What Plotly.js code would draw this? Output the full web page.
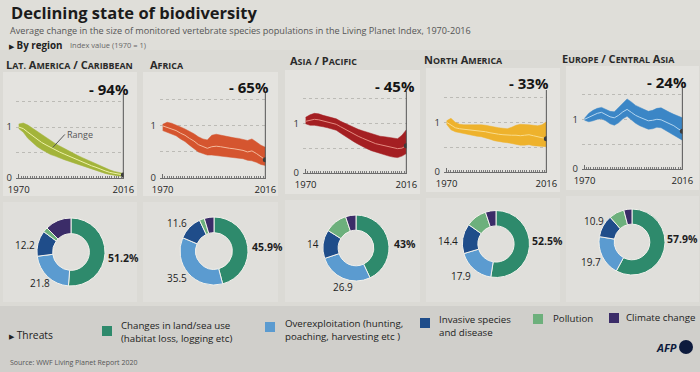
<!DOCTYPE html>
<html><head><meta charset="utf-8">
<script src="https://cdn.plot.ly/plotly-3.0.1.min.js"></script>
<style>html,body{margin:0;padding:0;background:#dbdad5;}</style>
</head><body><div id="chart" style="width:700px;height:372px;"></div>
<script>
// ---------- DATA ----------
const years = [1970,1972,1974,1976,1978,1980,1982,1984,1986,1988,1990,1992,1994,1996,1998,2000,2002,2004,2006,2008,2010,2012,2014,2016];
const regions = ['Lat. America / Caribbean','Africa','Asia / Pacific','North America','Europe / Central Asia'];
const changeLabels = ['- 94%','- 65%','- 45%','- 33%','- 24%'];

const latamMean  = [1.00,0.97,0.90,0.83,0.76,0.70,0.65,0.60,0.55,0.51,0.47,0.43,0.39,0.35,0.31,0.28,0.24,0.21,0.17,0.14,0.11,0.09,0.07,0.06];
const latamUpper = [1.06,1.08,1.04,0.98,0.91,0.85,0.80,0.74,0.68,0.63,0.58,0.53,0.48,0.44,0.40,0.36,0.32,0.27,0.23,0.19,0.16,0.13,0.11,0.09];
const latamLower = [0.97,0.90,0.78,0.69,0.62,0.56,0.51,0.46,0.43,0.39,0.36,0.33,0.30,0.26,0.23,0.20,0.17,0.14,0.11,0.09,0.07,0.05,0.04,0.03];

const africaMean  = [1.00,0.97,0.95,0.91,0.86,0.82,0.76,0.71,0.64,0.60,0.57,0.60,0.61,0.60,0.58,0.57,0.56,0.55,0.53,0.50,0.52,0.47,0.41,0.35];
const africaUpper = [1.03,1.07,1.05,1.02,0.98,0.94,0.90,0.85,0.79,0.75,0.73,0.82,0.84,0.82,0.80,0.78,0.77,0.76,0.74,0.72,0.75,0.69,0.63,0.59];
const africaLower = [0.91,0.88,0.85,0.81,0.75,0.70,0.63,0.57,0.50,0.47,0.44,0.44,0.43,0.42,0.42,0.41,0.40,0.39,0.37,0.34,0.33,0.30,0.26,0.24];

const asiaMean  = [1.04,1.06,1.08,1.07,1.05,1.03,1.01,0.98,0.93,0.88,0.83,0.78,0.74,0.70,0.66,0.62,0.59,0.57,0.55,0.52,0.50,0.49,0.50,0.55];
const asiaUpper = [1.12,1.17,1.20,1.19,1.16,1.14,1.12,1.09,1.04,1.00,0.96,0.91,0.88,0.85,0.82,0.79,0.76,0.74,0.73,0.72,0.70,0.69,0.76,0.87];
const asiaLower = [0.99,0.96,0.96,0.95,0.93,0.91,0.89,0.86,0.80,0.74,0.68,0.63,0.58,0.53,0.49,0.45,0.42,0.39,0.37,0.34,0.32,0.31,0.34,0.39];

const namMean  = [1.00,0.95,0.89,0.87,0.86,0.85,0.84,0.83,0.83,0.81,0.79,0.77,0.76,0.75,0.74,0.74,0.74,0.73,0.74,0.75,0.73,0.71,0.70,0.67];
const namUpper = [1.03,1.08,1.00,0.96,0.95,0.95,0.96,0.96,0.95,0.94,0.92,0.90,0.89,0.88,0.87,0.90,0.94,0.96,0.96,0.95,0.94,0.93,0.95,1.01];
const namLower = [0.96,0.85,0.81,0.79,0.77,0.75,0.74,0.72,0.71,0.69,0.66,0.63,0.61,0.60,0.59,0.57,0.55,0.54,0.54,0.55,0.53,0.52,0.51,0.51];

const eurMean  = [1.00,1.04,1.08,1.12,1.14,1.10,1.05,1.03,1.08,1.15,1.20,1.14,1.08,1.04,1.00,0.97,0.98,1.00,0.99,0.95,0.91,0.87,0.81,0.76];
const eurUpper = [1.02,1.12,1.18,1.22,1.24,1.20,1.16,1.15,1.24,1.34,1.41,1.35,1.28,1.24,1.20,1.16,1.18,1.22,1.23,1.18,1.14,1.10,1.06,1.03];
const eurLower = [0.98,0.95,0.97,1.00,1.01,0.97,0.91,0.88,0.93,1.01,1.06,0.99,0.92,0.87,0.83,0.80,0.81,0.84,0.83,0.78,0.73,0.68,0.63,0.58];

const xTickVals = [1970, 2016];
const xTickText = ['1970', '2016'];
const yTickVals = [0, 0.5, 1, 1.5];
const yTickText = ['0', '', '1', ''];

const threats = ['Changes in land/sea use<br>(habitat loss, logging etc)','Overexploitation (hunting,<br>poaching, harvesting etc )','Invasive species<br>and disease','Pollution','Climate change'];
const landUse   = [51.2, 45.9, 43, 52.5, 57.9];
const overexp   = [21.8, 35.5, 26.9, 17.9, 19.7];
const invasive  = [12.2, 11.6, 14, 14.4, 10.9];
const pollution = [2.3, 2.4, 11.0, 10.1, 7.5];
const climate   = [12.5, 4.6, 5.1, 5.1, 4.0];

// ---------- STYLE / GEOMETRY ----------
const means  = [latamMean, africaMean, asiaMean, namMean, eurMean];
const uppers = [latamUpper, africaUpper, asiaUpper, namUpper, eurUpper];
const lowers = [latamLower, africaLower, asiaLower, namLower, eurLower];
const bandColors = ['#a3b43a','#d5552f','#a41f22','#eeb22c','#3b86c6'];
const lineColors = ['#eef2a8','#f3b99c','#e48a80','#f9dc8c','#b4d6f0'];
const threatColors = ['#2e8a6c','#5b9bd0','#1f4d8a','#6db07c','#3b2c68'];

const geo = [
  {x0:16, x1:124, yt:94, yb:178, px:131, py:89, tx:4,   ty:64, cx:71,  cy:252, r:34, lb:[[124,258],[40,283],[25,245]], bg:[3,137,72,196]},
  {x0:160,x1:266, yt:92, yb:178, px:271, py:87, tx:148, ty:64, cx:214, cy:251, r:34, lb:[[267,247],[177,278],[177,223]], bg:[143,278,72,196]},
  {x0:303,x1:407, yt:91, yb:173, px:417, py:86, tx:288, ty:61, cx:356, cy:248, r:33, lb:[[405,244],[343,287],[313,244]], bg:[285,420,70,194]},
  {x0:444,x1:547, yt:90, yb:172, px:551, py:83, tx:422, ty:60, cx:496, cy:244, r:33.5, lb:[[547,241],[461,276],[448,241]], bg:[426,560,68,192]},
  {x0:582,x1:683, yt:87, yb:169, px:689, py:82, tx:560, ty:59, cx:632, cy:242, r:33, lb:[[682,239],[591,262],[594,221]], bg:[566,699,66,190]}
];
const W = 700, H = 372;
const fx = v => v / W, fy = v => 1 - v / H;
const FONT = 'Open Sans, Noto Sans, sans-serif';

function smallCaps(s, small) {
  return s.split(' ').map(w => {
    if (!/[A-Za-z]/.test(w)) return w;
    return w[0].toUpperCase() + (w.length > 1 ? `<span style="font-size:${small}px">${w.slice(1).toUpperCase()}</span>` : '');
  }).join(' ');
}

const traces = [];
const layout = {
  width: W, height: H, margin: {l:0, r:0, t:0, b:0},
  paper_bgcolor: '#dbdad5', plot_bgcolor: 'rgba(0,0,0,0)',
  showlegend: false, font: {family: FONT, color: '#222'},
  shapes: [], annotations: []
};

layout.shapes.push({type:'rect', xref:'paper', yref:'paper', x0:0, x1:1, y0:fy(0), y1:fy(50), fillcolor:'#dfded9', line:{width:0}, layer:'below'});
layout.shapes.push({type:'rect', xref:'paper', yref:'paper', x0:0, x1:1, y0:fy(306), y1:fy(372), fillcolor:'#d0cfcb', line:{width:0}, layer:'below'});

regions.forEach((name, i) => {
  const g = geo[i];
  const s = i === 0 ? '' : String(i + 1);
  const xa = 'x' + s, ya = 'y' + s;
  layout.shapes.push({type:'rect', xref:'paper', yref:'paper', x0:fx(g.bg[0]), x1:fx(g.bg[1]), y0:fy(g.bg[3]), y1:fy(g.bg[2]), fillcolor:'#e4e3df', line:{width:0}, layer:'below'});
  layout.shapes.push({type:'rect', xref:'paper', yref:'paper', x0:fx(g.bg[0]), x1:fx(g.bg[1]), y0:fy(302), y1:fy(g.bg[3] + 6), fillcolor:'#e0dfdb', line:{width:0}, layer:'below'});

  layout['xaxis' + s] = {
    domain: [fx(g.x0), fx(g.x1)], anchor: ya, range: [1968.8, 2016.3],
    tickmode: 'array', tickvals: xTickVals, ticktext: xTickText,
    ticks: 'inside', ticklen: 4, tickcolor: '#6d6d6d', tickwidth: 1, ticklabelstandoff: 3,
    minor: {tickmode: 'linear', tick0: 1970, dtick: 1, ticklen: 2, ticks: 'inside', tickcolor: '#7a7a7a', showgrid: false},
    showline: true, linecolor: '#6d6d6d', linewidth: 1, showgrid: false, zeroline: false,
    tickfont: {size: 9.5, color: '#222', family: FONT}, fixedrange: true
  };
  layout['yaxis' + s] = {
    domain: [fy(g.yb), fy(g.yt)], anchor: xa, range: [0, 1.65],
    tickmode: 'array', tickvals: yTickVals, ticktext: yTickText,
    showgrid: true, gridcolor: '#bcbbb6', griddash: 'dot', gridwidth: 1,
    zeroline: false, showline: false, ticks: '', ticklabelstandoff: 3,
    tickfont: {size: 9.5, color: '#333', family: FONT}, fixedrange: true
  };

  traces.push({type:'scatter', mode:'lines', x: years, y: lowers[i], xaxis: xa, yaxis: ya, line:{width:0.5, color: bandColors[i]}, hoverinfo:'skip'});
  traces.push({type:'scatter', mode:'lines', x: years, y: uppers[i], xaxis: xa, yaxis: ya, line:{width:0.5, color: bandColors[i]}, fill:'tonexty', fillcolor: bandColors[i], hoverinfo:'skip'});
  traces.push({type:'scatter', mode:'lines', x: years, y: means[i], xaxis: xa, yaxis: ya, line:{width:1, color: lineColors[i]}, hoverinfo:'skip'});
  traces.push({type:'scatter', mode:'markers', x: [years[years.length-1]], y: [means[i][means[i].length-1]], xaxis: xa, yaxis: ya, marker:{size:5, color:'#3a3a3a'}, hoverinfo:'skip'});

  layout.shapes.push({type:'line', xref: xa, yref: ya + ' domain', x0: years[years.length-1], x1: years[years.length-1], y0: 0, y1: 1, line:{color:'#555', width:1}});

  layout.annotations.push({xref:'paper', yref:'paper', x: fx(g.px), y: fy(g.py), xanchor:'right', yanchor:'middle', showarrow:false,
    text: '<b>' + changeLabels[i] + '</b>', font:{size:15, color:'#151515', family: FONT}});
  layout.annotations.push({xref:'paper', yref:'paper', x: fx(g.tx), y: fy(g.ty), xanchor:'left', yanchor:'middle', showarrow:false,
    text: '<b>' + smallCaps(name, 8.9) + '</b>', font:{size:11, color:'#2a2a2a', family: FONT}});

  traces.push({type:'pie', values: [landUse[i], overexp[i], invasive[i], pollution[i], climate[i]], labels: threats,
    marker:{colors: threatColors, line:{color:'#f2f1ec', width:1}}, hole: 0.54, sort:false, direction:'clockwise', rotation: 0,
    textinfo:'none', hoverinfo:'skip',
    domain:{x:[fx(g.cx - g.r), fx(g.cx + g.r)], y:[fy(g.cy + g.r), fy(g.cy - g.r)]}});
  const vals = ['<b>' + landUse[i] + '%</b>', String(overexp[i]), String(invasive[i])];
  vals.forEach((t, k) => {
    layout.annotations.push({xref:'paper', yref:'paper', x: fx(g.lb[k][0]), y: fy(g.lb[k][1]), xanchor:'center', yanchor:'middle', showarrow:false,
      text: t, font:{size: k === 0 ? 10.5 : 10, color:'#1d1d1d', family: FONT}});
  });
});

layout.annotations.push({xref:'x', yref:'y', x: 1985, y: 0.6, ax: 12, ay: -13, showarrow:true, arrowhead:0, arrowwidth:1, arrowcolor:'#555',
  text:'Range', xanchor:'left', font:{size:9, color:'#555', family: FONT}});

layout.annotations.push({xref:'paper', yref:'paper', x: fx(9), y: fy(13), xanchor:'left', yanchor:'middle', showarrow:false,
  text:'<b>Declining state of biodiversity</b>', font:{size:16.5, color:'#1b1b1b', family: FONT}});
layout.annotations.push({xref:'paper', yref:'paper', x: fx(8), y: fy(30), xanchor:'left', yanchor:'middle', showarrow:false,
  text:'Average change in the size of monitored vertebrate species populations in the Living Planet Index, 1970-2016', font:{size:9.1, color:'#555', family: FONT}});
layout.annotations.push({xref:'paper', yref:'paper', x: fx(7), y: fy(45), xanchor:'left', yanchor:'middle', showarrow:false,
  text:'<span style="font-size:7px">▶</span> <b>By region</b>', font:{size:9.8, color:'#222', family: FONT}});
layout.annotations.push({xref:'paper', yref:'paper', x: fx(68), y: fy(45), xanchor:'left', yanchor:'middle', showarrow:false,
  text:'Index value (1970 = 1)', font:{size:7.5, color:'#666', family: FONT}});

layout.annotations.push({xref:'paper', yref:'paper', x: fx(7), y: fy(335), xanchor:'left', yanchor:'middle', showarrow:false,
  text:'<span style="font-size:7px">▶</span> Threats', font:{size:10.3, color:'#222', family: FONT}});
const legPos = [[107,331,119,332],[270,327,283,330],[425,323,437,326],[538,319,551,318],[614,318,624,317]];
threats.forEach((t, k) => {
  const p = legPos[k];
  layout.shapes.push({type:'rect', xref:'paper', yref:'paper', x0: fx(p[0]-5), x1: fx(p[0]+5), y0: fy(p[1]+5), y1: fy(p[1]-5), fillcolor: threatColors[k], line:{width:0}});
  layout.annotations.push({xref:'paper', yref:'paper', x: fx(p[2]), y: fy(p[3]), xanchor:'left', yanchor:'middle', align:'left', showarrow:false,
    text: t, font:{size:9.7, color:'#222', family: FONT}});
});
layout.annotations.push({xref:'paper', yref:'paper', x: fx(8), y: fy(362), xanchor:'left', yanchor:'middle', showarrow:false,
  text:'Source: WWF Living Planet Report 2020', font:{size:7, color:'#555', family: FONT}});
layout.annotations.push({xref:'paper', yref:'paper', x: fx(679), y: fy(347), xanchor:'right', yanchor:'middle', showarrow:false,
  text:'<b><i>AFP</i></b>', font:{size:11, color:'#0d1b3d', family: FONT}});
layout.shapes.push({type:'circle', xref:'paper', yref:'paper', x0: fx(679), x1: fx(693), y0: fy(354), y1: fy(340), fillcolor:'#0d1b3d', line:{width:0}});

Plotly.newPlot('chart', traces, layout, {staticPlot: true, displayModeBar: false});
</script>
</body></html>
